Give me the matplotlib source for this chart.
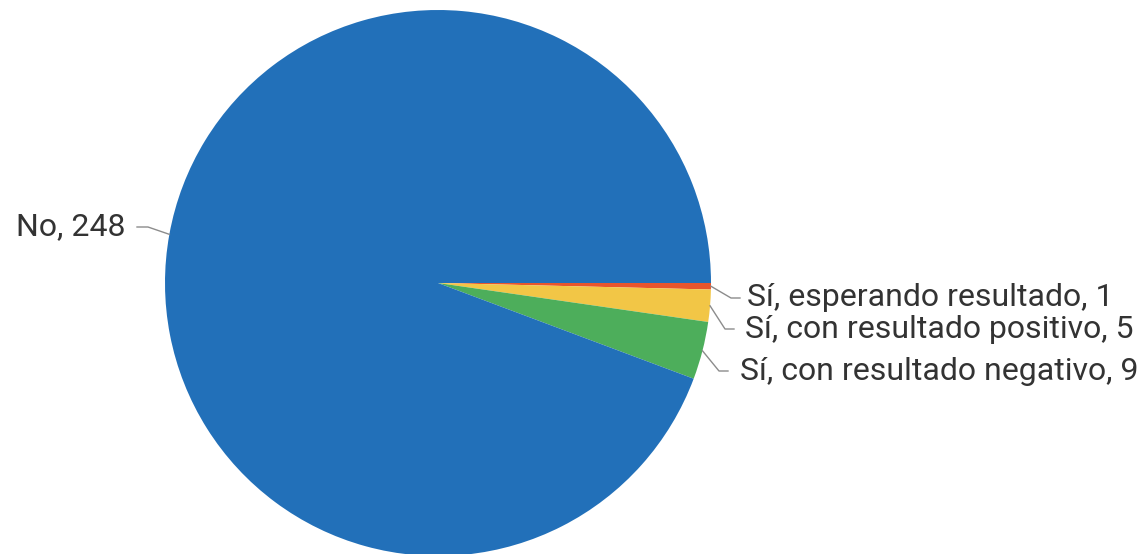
import numpy as np
import matplotlib
matplotlib.use('Agg')
import matplotlib.pyplot as plt

labels = ['Sí, esperando resultado', 'Sí, con resultado positivo',
          'Sí, con resultado negativo', 'No']
values = [1, 5, 9, 248]
colors = ['#E8552D', '#F2C646', '#4DAE5B', '#2270B9']

W, H = 1147, 554
fig = plt.figure(figsize=(W/100, H/100), dpi=100)
ax = fig.add_axes([0, 0, 1, 1])

cx, cy, r = 438, H - 283, 273
wedges, _ = ax.pie(values, colors=colors, startangle=0, counterclock=False,
                   center=(cx, cy), radius=r, frame=True,
                   wedgeprops=dict(linewidth=0))
ax.set_xlim(0, W)
ax.set_ylim(0, H)
ax.set_aspect('equal')
ax.axis('off')

# label positions (image pixel coords: elbow x, text y, text x, alignment)
lab_pos = [(731, 298, 747, 'left'),
           (725, 329, 745, 'left'),
           (719, 371, 740, 'left'),
           (148, 227, 126, 'right')]

for w, lab, v, (ex, ty, tx, ha) in zip(wedges, labels, values, lab_pos):
    ang = np.deg2rad((w.theta1 + w.theta2) / 2)
    px, py = cx + r*np.cos(ang), cy + r*np.sin(ang)
    y = H - ty
    if ha == 'left':
        xs = [px, ex, ex + 9]
    else:
        xs = [px, ex, ex - 11]
    ax.plot(xs, [py, y, y], color='#8c8c8c', lw=1)
    ax.text(tx, y, f'{lab}, {v}', ha=ha, va='center', fontsize=23,
            family='Roboto', color='#333333')

fig.savefig('out.png', dpi=100)
